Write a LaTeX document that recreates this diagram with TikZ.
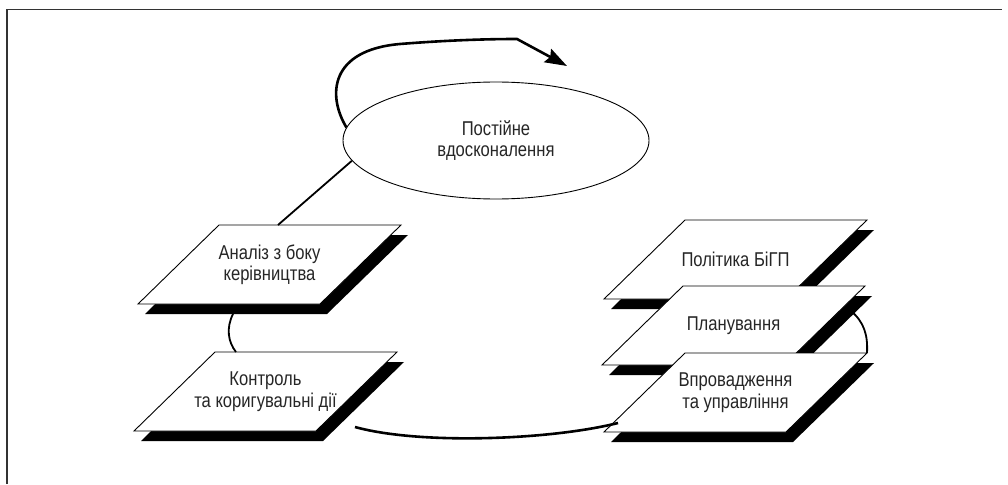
\documentclass[tikz,border=0pt]{standalone}
\usepackage{fontspec}
\setmainfont{Liberation Sans}
\newfontfamily\condfont[FakeStretch=0.83]{Liberation Sans}
\usetikzlibrary{arrows.meta,calc,shapes.geometric}
\tikzset{
  lbl/.style={font=\condfont\fontsize{20}{21.5}\selectfont, text=black!85, align=center, inner sep=0pt},
  plateline/.style={draw=black, line width=0.9pt, fill=white, line join=miter},
  shadowfill/.style={fill=black},
  conn/.style={draw=black, line width=1.8pt},
  thickconn/.style={draw=black, line width=2.6pt},
  framestyle/.style={draw=black!80, line width=1.5pt},
  plate/.pic={
    \fill[shadowfill] (7,10) -- (189,10) -- (108,89) -- (-74,89) -- cycle;
    \draw[plateline] (0,0) coordinate (-tl) -- (182,0) coordinate (-tr) -- (101,79) coordinate (-br) -- (-81,79) coordinate (-bl) -- cycle;
    \node[lbl] (-c) at (50.5,39.5) {#1};
  }
}
\begin{document}
\begin{tikzpicture}[x=1pt,y=-1pt]
\fill[white] (0,0) rectangle (1008,484);
\useasboundingbox (0,0) rectangle (1008,484);
% frame
\draw[framestyle] (7,484) -- (7,9.5) -- (1002,9.5);
% ellipse
\node[draw, ellipse, line width=0.9pt, minimum width=306pt, minimum height=117pt, lbl] (ell) at (496,140.5) {Постійне\\вдосконалення};
% plates
\pic (an) at (219,225) {plate={Аналіз з боку\\керівництва}};
\pic (ko) at (215,352) {plate={Контроль\\та коригувальні дії}};
\pic (po) at (685,220) {plate={Політика БіГП}};
\pic (pl) at (683,286) {plate={Планування}};
\pic (vp) at (685,353) {plate={Впровадження\\та управління}};
% connectors
\coordinate (tip) at (567,66);
\draw[thickconn, -{Stealth[length=22pt,width=15pt,inset=3pt]}] (ell.175) .. controls (327,95) and (330,50) .. (400,44) .. controls (450,40) and (490,39) .. (517,39) -- (tip);
\draw[conn] (ell.188) -- ($(an-tl)!0.324!(an-tr)$);
\draw[conn] ($(an-bl)+(95,10)$) .. controls (226,328) and (228,342) .. ($(ko-tl)+(21,0)$);
\coordinate (botstart) at ($(ko-br)+(39,-4)$);
\draw[thickconn] (botstart) .. controls (420,445) and (550,440) .. ($(vp-bl)+(14,-9)$);
\draw[conn] ($(pl-tr)+(-14,25)$) .. controls (864,322) and (868,335) .. (vp-tr);
\end{tikzpicture}
\end{document}
